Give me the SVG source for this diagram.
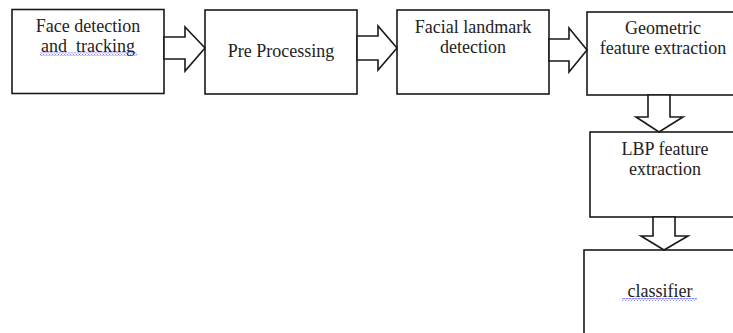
<svg xmlns="http://www.w3.org/2000/svg" width="733" height="333" viewBox="0 0 733 333">
<style>
.box{fill:#fff;stroke:#1a1a1a;stroke-width:1.6}
.arr{fill:#fff;stroke:#1a1a1a;stroke-width:1.6;stroke-linejoin:miter}
</style>
<defs>
<pattern id="wavy" width="3" height="3" patternUnits="userSpaceOnUse">
<polyline points="0,2.5 1.5,0.5 3,2.5" fill="none" stroke="#3b3bf0" stroke-width="0.8"/>
</pattern>
</defs>
<rect width="733" height="333" fill="#fff"/>
<g id="n1">
<rect class="box" x="12" y="9.5" width="152" height="84"/>
<text x="88" y="32" font-family="Liberation Serif" font-size="18" fill="#222" text-anchor="middle">Face detection</text>
<text x="88" y="52" font-family="Liberation Serif" font-size="18" fill="#222" text-anchor="middle" xml:space="preserve">and  tracking</text>
<rect x="40" y="52.5" width="97" height="3" fill="url(#wavy)"/>
</g>
<g id="n2">
<rect class="box" x="205" y="10" width="152" height="84"/>
<text x="281" y="57" font-family="Liberation Serif" font-size="18" fill="#222" text-anchor="middle">Pre Processing</text>
</g>
<g id="n3">
<rect class="box" x="397" y="10" width="152" height="84"/>
<text x="473" y="33" font-family="Liberation Serif" font-size="18" fill="#222" text-anchor="middle">Facial landmark</text>
<text x="473" y="53" font-family="Liberation Serif" font-size="18" fill="#222" text-anchor="middle">detection</text>
</g>
<g id="n4">
<rect class="box" x="587" y="12" width="160" height="83"/>
<text x="663" y="34" font-family="Liberation Serif" font-size="18" fill="#222" text-anchor="middle">Geometric</text>
<text x="663" y="54" font-family="Liberation Serif" font-size="18" fill="#222" text-anchor="middle">feature extraction</text>
</g>
<g id="n5">
<rect class="box" x="590" y="132" width="160" height="85"/>
<text x="665" y="155" font-family="Liberation Serif" font-size="18" fill="#222" text-anchor="middle">LBP feature</text>
<text x="665" y="175" font-family="Liberation Serif" font-size="18" fill="#222" text-anchor="middle">extraction</text>
</g>
<g id="n6">
<rect class="box" x="584" y="250" width="160" height="100"/>
<text x="660" y="297" font-family="Liberation Serif" font-size="18" fill="#222" text-anchor="middle">classifier</text>
<rect x="622" y="298" width="75" height="3" fill="url(#wavy)"/>
</g>
<g id="connectors">
<polygon class="arr" points="164,37 185,37 185,27 205,48 185,71 185,59 164,59"/>
<polygon class="arr" points="357,36 378,36 378,26 397,48 378,70 378,60 357,60"/>
<polygon class="arr" points="549,39 569,39 569,28 587,50 569,72 569,61 549,61"/>
<polygon class="arr" points="648,95 648,117 636,117 659,132 683,117 670,117 670,95"/>
<polygon class="arr" points="653,217 653,236 641,236 664,250 688,236 675,236 675,217"/>
</g>
</svg>
